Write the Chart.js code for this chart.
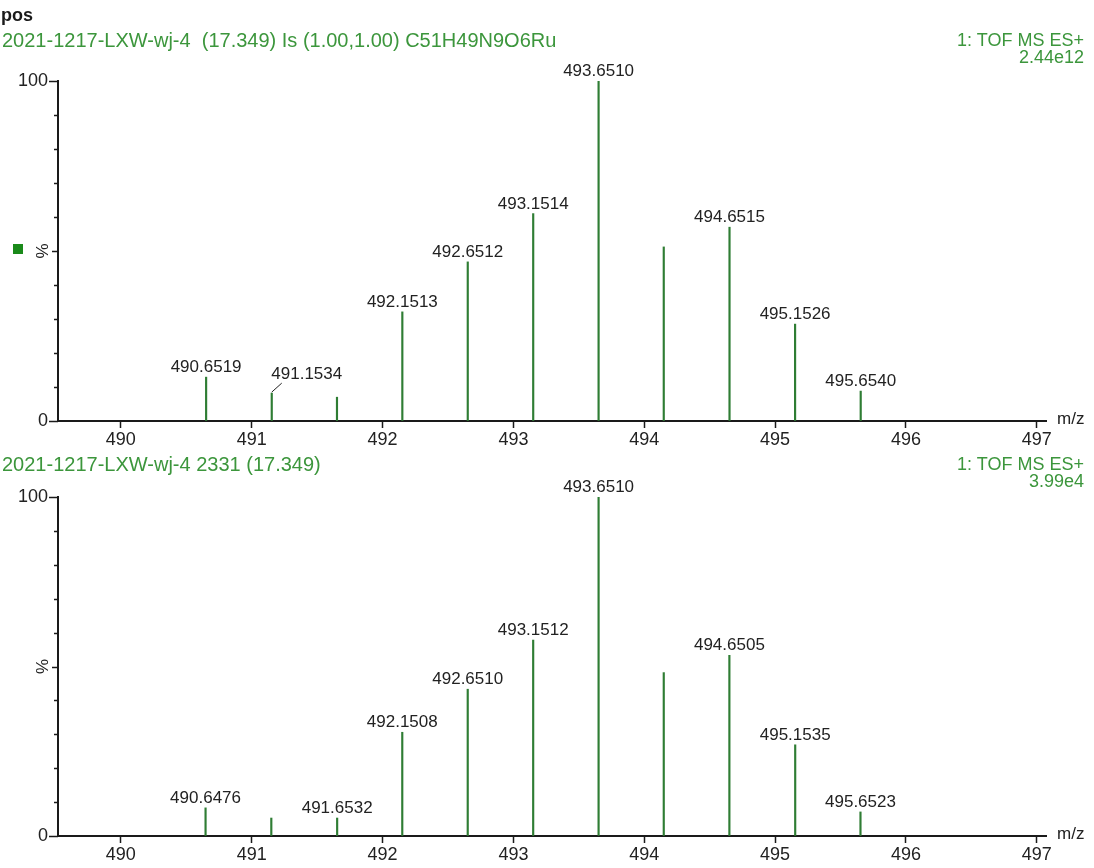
<!DOCTYPE html>
<html>
<head>
<meta charset="utf-8">
<script src="https://cdn.jsdelivr.net/npm/chart.js@4.4.1/dist/chart.umd.min.js"></script>
<style>
  html, body { margin: 0; padding: 0; background: #fff; }
  body { width: 1094px; height: 868px; position: relative; overflow: hidden;
         font-family: "Liberation Sans", Arial, sans-serif; }
  .t { position: absolute; white-space: pre; font-size: 18px; line-height: 18px; color: #3c963c; z-index: 2; }
  .l { font-size: 20px; line-height: 20px; }
  .r { text-align: right; right: 10px; }
  canvas { position: absolute; left: 0; }
</style>
</head>
<body>
<div class="t" style="left:1px;top:6px;color:#1a1a1a;font-weight:bold">pos</div>
<div class="t l" style="left:2px;top:30px">2021-1217-LXW-wj-4  (17.349) Is (1.00,1.00) C51H49N9O6Ru</div>
<div class="t r" style="top:31px">1: TOF MS ES+</div>
<div class="t r" style="top:48px">2.44e12</div>
<div class="t l" style="left:2px;top:454px">2021-1217-LXW-wj-4 2331 (17.349)</div>
<div class="t r" style="top:455px">1: TOF MS ES+</div>
<div class="t r" style="top:472px">3.99e4</div>

<canvas id="theory" width="1094" height="460" style="top:0"></canvas>
<canvas id="measured" width="1094" height="408" style="top:460px"></canvas>

<script>
// Isotope pattern: simulated (top) and measured (bottom), m/z vs relative intensity %
const theoryMz = [490.6519, 491.1534, 491.6519, 492.1513, 492.6512, 493.1514, 493.6510, 494.1490, 494.6515, 495.1526, 495.6540];
const theoryIntensity = [12.9, 8.2, 7.0, 32.1, 46.8, 61.0, 100, 51.2, 57.0, 28.5, 8.8];
const theoryLabels = ['490.6519', '491.1534', '', '492.1513', '492.6512', '493.1514', '493.6510', '', '494.6515', '495.1526', '495.6540'];

const measuredMz = [490.6476, 491.1500, 491.6532, 492.1508, 492.6510, 493.1512, 493.6510, 494.1490, 494.6505, 495.1535, 495.6523];
const measuredIntensity = [8.3, 5.3, 5.3, 30.6, 43.3, 57.8, 100, 48.2, 53.3, 26.9, 7.1];
const measuredLabels = ['490.6476', '', '491.6532', '492.1508', '492.6510', '493.1512', '493.6510', '', '494.6505', '495.1535', '495.6523'];

const xTickValues = [490, 491, 492, 493, 494, 495, 496, 497];
const yTickValues = [0, 10, 20, 30, 40, 50, 60, 70, 80, 90, 100];
const xRange = [489.52, 497.07];

const FONT = '"Liberation Sans", Arial, sans-serif';
const PEAK = '#2f7d34';
const INK = '#1a1a1a';

// Peak annotations, y-axis minor ticks, "%" and "m/z" captions
const spectrumDecor = {
  id: 'spectrumDecor',
  afterDatasetsDraw(chart, args, opts) {
    const ctx = chart.ctx;
    const meta = chart.getDatasetMeta(0);
    ctx.save();
    ctx.font = '17px ' + FONT;
    ctx.fillStyle = '#222';
    ctx.textAlign = 'center';
    ctx.textBaseline = 'alphabetic';
    meta.data.forEach((bar, i) => {
      const txt = opts.labels[i];
      if (!txt) return;
      const c = opts.callouts && opts.callouts[i];
      if (c) {
        ctx.strokeStyle = '#222';
        ctx.lineWidth = 1;
        ctx.beginPath();
        ctx.moveTo(bar.x, bar.y - 1);
        ctx.lineTo(bar.x + c.lx, bar.y + c.ly);
        ctx.stroke();
        ctx.fillText(txt, bar.x + c.dx, bar.y + c.dy);
      } else {
        ctx.fillText(txt, bar.x, bar.y - 5);
      }
    });
    ctx.restore();
  },
  afterDraw(chart, args, opts) {
    const ctx = chart.ctx;
    const y = chart.scales.y;
    const a = chart.chartArea;
    ctx.save();
    ctx.strokeStyle = INK;
    ctx.lineWidth = 1.5;
    yTickValues.forEach(v => {
      const py = Math.round(y.getPixelForValue(v)) + 0.5;
      const len = (v === 0 || v === 100) ? 9 : (v === 50 ? 6 : 4);
      ctx.beginPath();
      ctx.moveTo(a.left - len, py);
      ctx.lineTo(a.left, py);
      ctx.stroke();
    });
    // rotated percent sign at mid-height
    ctx.fillStyle = '#222';
    ctx.font = '17px ' + FONT;
    ctx.textAlign = 'center';
    ctx.textBaseline = 'middle';
    ctx.translate(43, y.getPixelForValue(50));
    ctx.rotate(-Math.PI / 2);
    ctx.fillText('%', 0, 0);
    ctx.setTransform(1, 0, 0, 1, 0, 0);
    if (opts.marker) {
      ctx.fillStyle = '#1a8a1a';
      ctx.fillRect(13, y.getPixelForValue(50) - 7, 10, 10);
    }
    ctx.fillStyle = '#222';
    ctx.textAlign = 'left';
    ctx.textBaseline = 'middle';
    ctx.fillText('m/z', a.right + 11, a.bottom - 2);
    ctx.restore();
  }
};

function spectrum(id, mz, intensity, labels, padTop, axisHeight, extra) {
  return new Chart(document.getElementById(id), {
    type: 'bar',
    data: {
      datasets: [{
        data: mz.map((m, i) => ({ x: m, y: intensity[i] })),
        backgroundColor: PEAK,
        borderWidth: 0,
        barThickness: 1.5
      }]
    },
    options: {
      responsive: false,
      animation: false,
      devicePixelRatio: 1,
      layout: { padding: { top: padTop, right: 48, left: 0, bottom: 0 } },
      plugins: {
        legend: { display: false },
        tooltip: { enabled: false },
        spectrumDecor: Object.assign({ labels }, extra)
      },
      scales: {
        x: {
          type: 'linear',
          min: xRange[0],
          max: xRange[1],
          offset: false,
          afterBuildTicks: s => { s.ticks = xTickValues.map(v => ({ value: v })); },
          afterFit: s => { s.height = axisHeight; },
          grid: { display: true, offset: false, drawOnChartArea: false, drawTicks: true, tickLength: 7, tickColor: INK, tickWidth: 1.5 },
          border: { display: true, color: INK, width: 2 },
          ticks: { color: '#222', font: { family: FONT, size: 18 }, padding: 1, maxRotation: 0, autoSkip: false,
                   callback: v => String(v) }
        },
        y: {
          min: 0,
          max: 100,
          afterBuildTicks: s => { s.ticks = yTickValues.map(v => ({ value: v })); },
          afterFit: s => { s.width = 58; },
          grid: { display: true, drawOnChartArea: false, drawTicks: false },
          border: { display: true, color: INK, width: 2 },
          ticks: { color: '#222', font: { family: FONT, size: 18 }, padding: 10, autoSkip: false,
                   callback: v => (v === 0 || v === 100) ? String(v) : '' }
        }
      }
    },
    plugins: [spectrumDecor]
  });
}

spectrum('theory', theoryMz, theoryIntensity, theoryLabels, 81, 39,
         { marker: true, callouts: { 1: { lx: 10, ly: -10, dx: 35, dy: -14 } } });
spectrum('measured', measuredMz, measuredIntensity, measuredLabels, 37, 32, { marker: false });
</script>
</body>
</html>
